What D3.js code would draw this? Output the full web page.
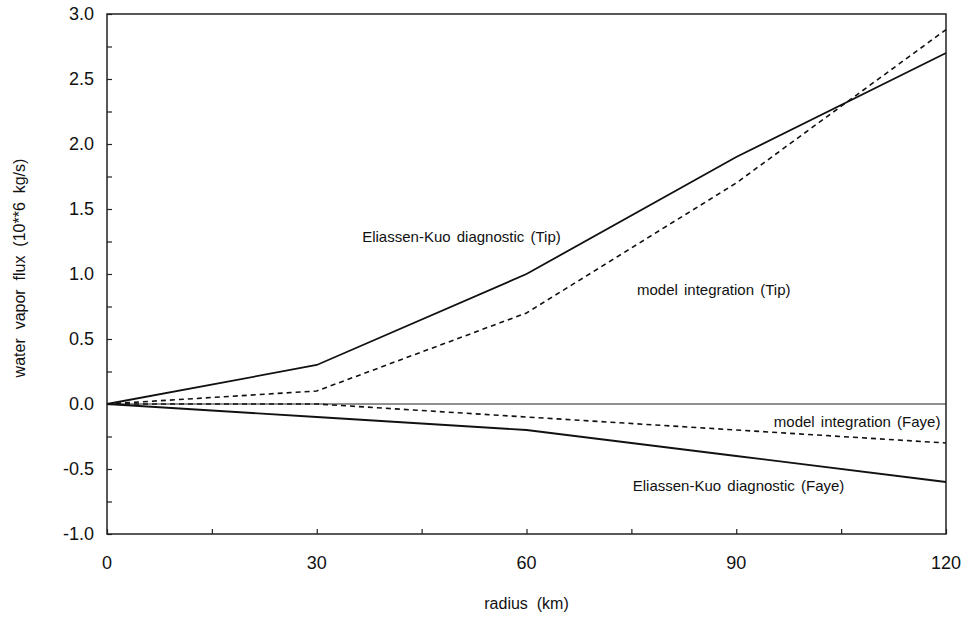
<!DOCTYPE html>
<html>
<head>
<meta charset="utf-8">
<script src="https://cdn.jsdelivr.net/npm/d3@7"></script>
<style>
  body { margin: 0; background: #fff; }
  text { font-family: "Liberation Sans", Arial, sans-serif; fill: #111; white-space: pre; }
</style>
</head>
<body>
<div id="chart"></div>
<script>
// radius (km) and flux (10**6 kg/s)
const radius = [0, 30, 60, 90, 120];
const ekTip = [0, 0.3, 1.0, 1.9, 2.7];
const modelTip = [0, 0.1, 0.7, 1.7, 2.88];
const modelFaye = [0, 0, -0.1, -0.2, -0.3];
const ekFaye = [0, -0.1, -0.2, -0.4, -0.6];

const xTicks = [0, 30, 60, 90, 120];
const yTicks = [-1.0, -0.5, 0.0, 0.5, 1.0, 1.5, 2.0, 2.5, 3.0];

// label anchors given in data units
const series = [
  {name: "Eliassen-Kuo diagnostic (Tip)", values: ekTip, dashed: false, lx: 36.5, ly: 1.25, anchor: "start"},
  {name: "model integration (Tip)", values: modelTip, dashed: true, lx: 75.8, ly: 0.84, anchor: "start"},
  {name: "model integration (Faye)", values: modelFaye, dashed: true, lx: 119.2, ly: -0.175, anchor: "end"},
  {name: "Eliassen-Kuo diagnostic (Faye)", values: ekFaye, dashed: false, lx: 75.2, ly: -0.67, anchor: "start"}
];

const W = 966, H = 619;
const MARGIN = {left: 107, right: 20, top: 14, bottom: 85};

const svg = d3.select("#chart").append("svg")
  .attr("width", W).attr("height", H);

const x = d3.scaleLinear().domain([0, 120]).range([MARGIN.left, W - MARGIN.right]);
const y = d3.scaleLinear().domain([-1, 3]).range([H - MARGIN.bottom, MARGIN.top]);

// frame
svg.append("rect")
  .attr("x", x(0)).attr("y", y(3))
  .attr("width", x(120) - x(0)).attr("height", y(-1) - y(3))
  .attr("fill", "none").attr("stroke", "#222").attr("stroke-width", 1.5);

// inward ticks
svg.append("g")
  .attr("transform", `translate(0,${y(-1)})`)
  .call(d3.axisTop(x).tickValues(d3.range(0, 121, 15)).tickSize(5).tickFormat(""))
  .call(g => g.select(".domain").remove())
  .selectAll("line").attr("stroke", "#222").attr("stroke-width", 1.2);

svg.append("g")
  .attr("transform", `translate(${x(0)},0)`)
  .call(d3.axisRight(y).tickValues(d3.range(-1, 3.01, 0.25)).tickSize(5).tickFormat(""))
  .call(g => g.select(".domain").remove())
  .selectAll("line").attr("stroke", "#222").attr("stroke-width", 1.2);

// tick labels
svg.append("g").selectAll("text")
  .data(xTicks).join("text")
  .attr("x", d => x(d)).attr("y", y(-1) + 35)
  .attr("text-anchor", "middle").attr("font-size", 18)
  .text(d => d);

svg.append("g").selectAll("text")
  .data(yTicks).join("text")
  .attr("x", x(0) - 13).attr("y", d => y(d) + 6)
  .attr("text-anchor", "end").attr("font-size", 18)
  .text(d => d3.format(".1f")(d).replace("−", "-"));

// zero line
svg.append("line")
  .attr("x1", x(0)).attr("x2", x(120))
  .attr("y1", y(0)).attr("y2", y(0))
  .attr("stroke", "#222").attr("stroke-width", 1.2);

const line = d3.line()
  .x((d, i) => x(radius[i]))
  .y(d => y(d));

svg.append("g").selectAll("path")
  .data(series).join("path")
  .attr("d", d => line(d.values))
  .attr("fill", "none")
  .attr("stroke", "#111")
  .attr("stroke-width", d => d.dashed ? 1.6 : 1.8)
  .attr("stroke-dasharray", d => d.dashed ? "5,4" : null);

// curve labels
svg.append("g").selectAll("text")
  .data(series).join("text")
  .attr("x", d => x(d.lx)).attr("y", d => y(d.ly))
  .attr("text-anchor", d => d.anchor)
  .attr("font-size", 15).attr("word-spacing", 2)
  .text(d => d.name);

// axis titles
svg.append("text")
  .attr("x", (x(0) + x(120)) / 2).attr("y", 609)
  .attr("text-anchor", "middle").attr("font-size", 16)
  .text("radius  (km)");

svg.append("text")
  .attr("transform", `translate(25,268) rotate(-90)`)
  .attr("text-anchor", "middle").attr("font-size", 16)
  .text("water  vapor  flux  (10**6  kg/s)");
</script>
</body>
</html>
